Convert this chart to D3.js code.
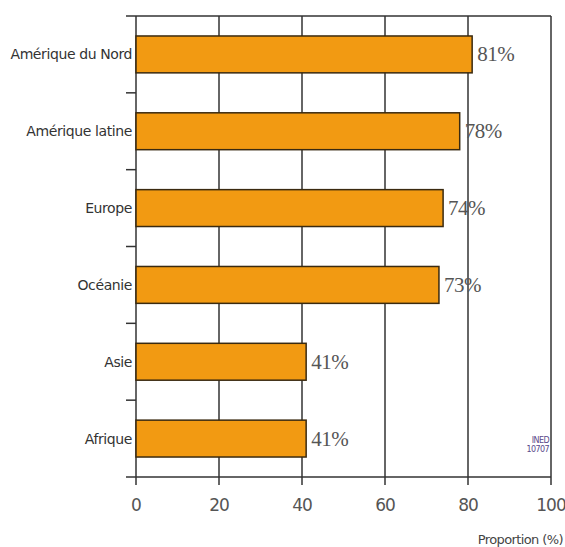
<!DOCTYPE html>
<html><head><meta charset="utf-8">
<script src="https://cdn.jsdelivr.net/npm/d3@7"></script>
<style>body{margin:0;background:#fff}svg{display:block}</style>
</head><body>
<script>
const categories = ["Amérique du Nord","Amérique latine","Europe","Océanie","Asie","Afrique"];
const values = [81,78,74,73,41,41];
const xTicks = [0,20,40,60,80,100];
const xTitle = "Proportion (%)";
const source = ["INED","10707"];

const W=565,H=547;
const m={l:136,r:14,t:16,b:70};
const svg=d3.select("body").append("svg").attr("width",W).attr("height",H);
const x=d3.scaleLinear().domain([0,100]).range([m.l,W-m.r]);
const y=d3.scaleBand().domain(categories).range([m.t,H-m.b]).paddingInner(0.52).paddingOuter(0.26);
const yTop=m.t,yBot=H-m.b;
const lc="#333";
// gridlines + ticks
svg.append("g").selectAll("line").data(xTicks).join("line")
 .attr("x1",d=>x(d)).attr("x2",d=>x(d)).attr("y1",yTop).attr("y2",yBot+8)
 .attr("stroke",lc).attr("stroke-width",1.5);
// top and bottom lines
[yTop,yBot].forEach(yy=>svg.append("line").attr("x1",m.l-10).attr("x2",x(100)).attr("y1",yy).attr("y2",yy).attr("stroke",lc).attr("stroke-width",1.5));
// category boundary ticks
const step=y.step();
const bounds=d3.range(1,categories.length).map(i=>y(categories[i])-step*y.paddingInner()/2);
svg.append("g").selectAll("line").data(bounds).join("line")
 .attr("x1",m.l-10).attr("x2",m.l).attr("y1",d=>d).attr("y2",d=>d).attr("stroke",lc).attr("stroke-width",1.5);
// bars
svg.append("g").selectAll("rect").data(values).join("rect")
 .attr("x",x(0)).attr("y",(d,i)=>y(categories[i])).attr("width",d=>x(d)-x(0)).attr("height",y.bandwidth())
 .attr("fill","#f29a12").attr("stroke","#3a2a10").attr("stroke-width",1.5);
// value labels
svg.append("g").selectAll("text").data(values).join("text")
 .attr("x",d=>x(d)+5).attr("y",(d,i)=>y(categories[i])+y.bandwidth()/2+7)
 .attr("font-family","Liberation Serif, serif").attr("font-size",21).attr("fill","#555").attr("letter-spacing",-0.5)
 .text(d=>d+"%");
// category labels
svg.append("g").selectAll("text").data(categories).join("text")
 .attr("x",m.l-4).attr("y",d=>y(d)+y.bandwidth()/2+5).attr("text-anchor","end")
 .attr("font-family","DejaVu Sans, sans-serif").attr("font-size",14).attr("fill","#333").attr("letter-spacing",-0.4)
 .text(d=>d);
// tick labels
svg.append("g").selectAll("text").data(xTicks).join("text")
 .attr("x",d=>x(d)).attr("y",yBot+34).attr("text-anchor","middle")
 .attr("font-family","DejaVu Sans, sans-serif").attr("font-size",17).attr("fill","#555").attr("letter-spacing",-1)
 .text(d=>d);
svg.append("text").attr("x",W-2).attr("y",H-3).attr("text-anchor","end")
 .attr("font-family","DejaVu Sans, sans-serif").attr("font-size",13).attr("fill","#444").attr("letter-spacing",-0.6).text(xTitle);
svg.append("g").selectAll("text").data(source).join("text")
 .attr("x",x(100)-2).attr("y",(d,i)=>yBot-34+i*9).attr("text-anchor","end")
 .attr("font-family","DejaVu Sans, sans-serif").attr("font-size",8).attr("fill","#5a4a8a").attr("letter-spacing",-0.6)
 .text(d=>d);
</script>
</body></html>
